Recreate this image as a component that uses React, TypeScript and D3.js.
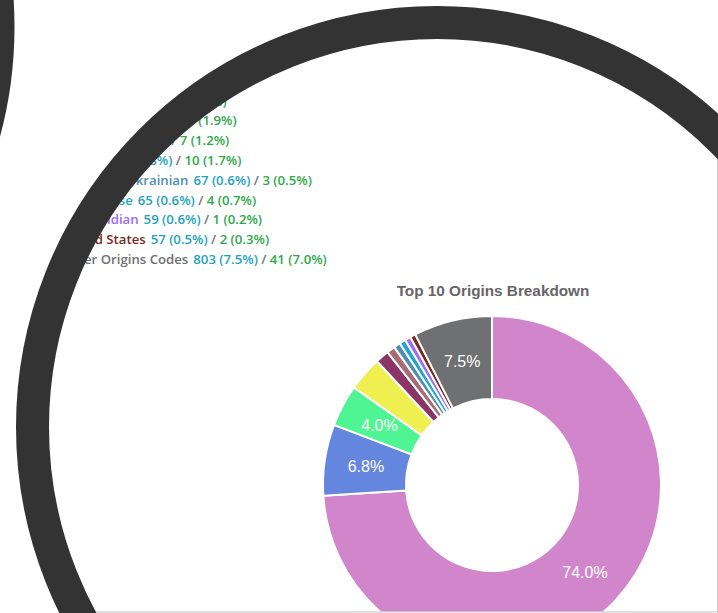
import React from "react";
import { arc, format, pie, scalePoint } from "d3";

// origins, first count = records, second count = flagged
const labels = [
    "Canadian",
    "English",
    "Irish",
    "Dutch",
    "Polish",
    "Chinese",
    "Russian & Ukrainian",
    "Portuguese",
    "Asian Indian",
    "United States",
    "Other Origins Codes",
];
const counts = [7923, 728, 428, 353, 139, 86, 67, 65, 59, 57, 803];
const counts2 = [432, 47, 28, 11, 7, 10, 3, 4, 1, 2, 41];
const colors = [
    "#d186cb",
    "#6586df",
    "#4ef592",
    "#f0ef50",
    "#8b3466",
    "#a86d74",
    "#4f8eb0",
    "#1fa8c9",
    "#9b6bff",
    "#7a2a1c",
    "#6f7072",
];

const W = 718;
const H = 613;
const lens = { cx: 437, cy: 427, r: 404.5, w: 33 };
const pct = format(".1f");

const App: React.FC = () => {
    const total = counts.reduce((a, b) => a + b, 0);
    const total2 = counts2.reduce((a, b) => a + b, 0);

    const rowY = scalePoint<string>().domain(labels).range([66, 264]);

    const slices = pie<number>().sort(null).value(d => d)(counts);
    const outerR = 169;
    const innerR = 86;
    const arcGen = arc<any>().innerRadius(innerR).outerRadius(outerR);
    const cx = 492;
    const cy = 485;

    return (
        <svg
            width={W}
            height={H}
            style={{ position: "fixed", left: 0, top: 0 }}
        >
            <defs>
                <clipPath id="lens">
                    <circle cx={lens.cx} cy={lens.cy} r={lens.r + 2} />
                </clipPath>
                <clipPath id="panel">
                    <rect x={0} y={0} width={717} height={611.5} />
                </clipPath>
            </defs>
            <rect width={W} height={H} fill="#fff" />

            <g clipPath="url(#lens)">
                {/* legend */}
                <g
                    fontFamily="'Open Sans', sans-serif"
                    fontWeight={600}
                    fontSize={13.2}
                >
                    {labels.map((l, i) => (
                        <text key={l} x={60} y={rowY(l)}>
                            <tspan fill={colors[i]}>{l}</tspan>
                            <tspan dx={5} fill="#1fa2bd">
                                {counts[i]} ({pct((counts[i] / total) * 100)}%)
                            </tspan>
                            <tspan fill="#6c757d"> / </tspan>
                            <tspan fill="#2fa84a">
                                {counts2[i]} ({pct((counts2[i] / total2) * 100)}%)
                            </tspan>
                        </text>
                    ))}
                </g>

                <text
                    x={493}
                    y={296}
                    textAnchor="middle"
                    fontFamily="'Liberation Sans', Arial, sans-serif"
                    fontWeight="bold"
                    fontSize={15.3}
                    fill="#666"
                >
                    Top 10 Origins Breakdown
                </text>

                <g clipPath="url(#panel)">
                    <g transform={`translate(${cx},${cy})`}>
                        {slices.map((s, i) => (
                            <path
                                key={i}
                                d={arcGen(s) || ""}
                                fill={colors[i]}
                                stroke="#fff"
                                strokeWidth={2}
                            />
                        ))}
                        {slices.map((s, i) => {
                            const p = (counts[i] / total) * 100;
                            if (p < 3.5) return null;
                            const [x, y] = arcGen.centroid(s);
                            return (
                                <text
                                    key={"l" + i}
                                    x={x}
                                    y={y}
                                    dy="0.36em"
                                    textAnchor="middle"
                                    fontFamily="'Liberation Sans', Arial, sans-serif"
                                    fontSize={16}
                                    fill="#fff"
                                >
                                    {pct(p)}%
                                </text>
                            );
                        })}
                    </g>
                </g>

                <line x1={717.5} x2={717.5} y1={0} y2={612} stroke="#cfcfcf" />
                <line x1={0} x2={718} y1={612} y2={612} stroke="#c4c4c4" />
            </g>

            <circle
                cx={lens.cx}
                cy={lens.cy}
                r={lens.r}
                fill="none"
                stroke="#333"
                strokeWidth={lens.w}
            />
            <circle
                cx={-406.5}
                cy={27}
                r={lens.r}
                fill="none"
                stroke="#333"
                strokeWidth={lens.w}
            />
        </svg>
    );
};

export default App;
